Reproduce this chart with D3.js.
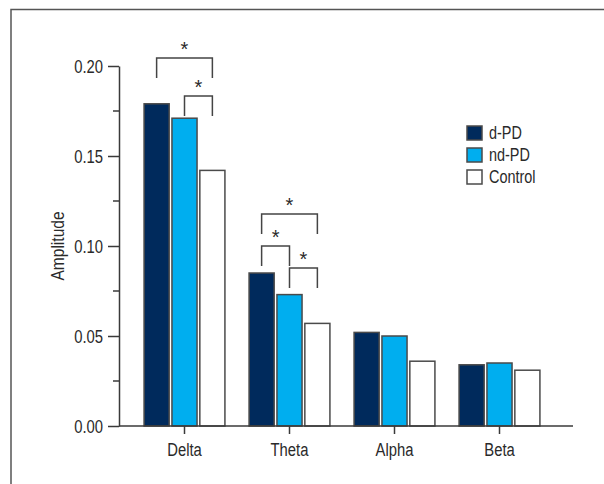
<!DOCTYPE html>
<html>
<head>
<meta charset="utf-8">
<script src="https://cdn.jsdelivr.net/npm/d3@7"></script>
<style>
    body { margin: 0; background: #fff; }
    svg text { font-family: "Liberation Sans", Arial, sans-serif; fill: #2a2a2a; }
</style>
</head>
<body>
<svg id="chart" width="604" height="484"></svg>
<script>
// Data
const bands = ["Delta", "Theta", "Alpha", "Beta"];
const groups = ["d-PD", "nd-PD", "Control"];
const dPD = [0.179, 0.085, 0.052, 0.034];
const ndPD = [0.171, 0.073, 0.050, 0.035];
const control = [0.142, 0.057, 0.036, 0.031];
const yTicks = [0, 0.05, 0.10, 0.15, 0.20];
const colors = ["#002a5c", "#00aeef", "#ffffff"];

// significance brackets: band, from group, to group, top level (in amplitude units)
const brackets = [
    { band: "Delta", from: "d-PD", to: "Control", top: 0.2045 },
    { band: "Delta", from: "nd-PD", to: "Control", top: 0.1833 },
    { band: "Theta", from: "d-PD", to: "Control", top: 0.1178 },
    { band: "Theta", from: "d-PD", to: "nd-PD", top: 0.1000 },
    { band: "Theta", from: "nd-PD", to: "Control", top: 0.0878 }
];

const series = [dPD, ndPD, control];
const rows = bands.map((b, i) => ({ band: b, values: groups.map((g, j) => ({ group: g, value: series[j][i] })) }));

const svg = d3.select("#chart");
const axisColor = "#3a3a3a";
const squeeze = 0.78; // the original uses a condensed face

// squeeze text horizontally around its anchor
function narrow(sel, sx) {
    sel.each(function () {
        const t = d3.select(this);
        const x = +t.attr("x") || 0;
        t.attr("x", x / sx).attr("transform", `scale(${sx},1)`);
    });
}

// frame
svg.append("path")
    .attr("d", "M11,484V9.5H604")
    .attr("fill", "none")
    .attr("stroke", "#555")
    .attr("stroke-width", 1.5);

const y = d3.scaleLinear().domain([0, 0.2]).range([426, 66]);

const x0 = d3.scaleBand()
    .domain(bands)
    .range([132, 552])
    .paddingInner(0.23)
    .paddingOuter(0.115);

const x1 = d3.scaleBand()
    .domain(groups)
    .range([0, x0.bandwidth()])
    .paddingInner(0.1);

const color = d3.scaleOrdinal().domain(groups).range(colors);

// bars
svg.append("g")
    .selectAll("g")
    .data(rows)
    .join("g")
    .attr("transform", d => `translate(${x0(d.band)},0)`)
    .selectAll("rect")
    .data(d => d.values)
    .join("rect")
    .attr("x", d => x1(d.group))
    .attr("y", d => y(d.value))
    .attr("width", x1.bandwidth())
    .attr("height", d => y(0) - y(d.value))
    .attr("fill", d => color(d.group))
    .attr("stroke", "#4a4a4a")
    .attr("stroke-width", 1.5);

// y axis: minor ticks
const minor = d3.range(0.025, 0.2, 0.05);
svg.append("g")
    .selectAll("line")
    .data(minor)
    .join("line")
    .attr("x1", 113).attr("x2", 119)
    .attr("y1", d => y(d)).attr("y2", d => y(d))
    .attr("stroke", axisColor).attr("stroke-width", 1.5);

const yAxis = svg.append("g")
    .attr("transform", "translate(119,0)")
    .call(d3.axisLeft(y).tickValues(yTicks).tickFormat(d3.format(".2f")).tickSize(11).tickSizeOuter(0).tickPadding(5));
yAxis.select(".domain").attr("stroke", axisColor).attr("stroke-width", 1.5);
yAxis.selectAll(".tick line").attr("stroke", axisColor).attr("stroke-width", 1.5);
yAxis.selectAll("text").attr("font-size", 19).attr("font-family", null).attr("fill", null)
    .call(narrow, squeeze);

// x axis
const xAxisG = svg.append("g").attr("transform", `translate(0,${y(0)})`);
xAxisG.append("line")
    .attr("x1", 119).attr("x2", 573)
    .attr("stroke", axisColor).attr("stroke-width", 1.5);
const xAxis = xAxisG.append("g")
    .call(d3.axisBottom(x0).tickSize(8).tickSizeOuter(0).tickPadding(9));
xAxis.select(".domain").remove();
xAxis.selectAll(".tick line").attr("stroke", axisColor).attr("stroke-width", 1.5);
xAxis.selectAll("text").attr("font-size", 19).attr("font-family", null).attr("fill", null)
    .call(narrow, squeeze);

// y label
svg.append("g")
    .attr("transform", "translate(64,246) rotate(-90)")
    .append("text")
    .attr("text-anchor", "middle")
    .attr("font-size", 19)
    .text("Amplitude")
    .call(narrow, 0.82);

// brackets
const center = (band, g) => x0(band) + x1(g) + x1.bandwidth() / 2;
const legLen = 20;
const br = svg.append("g");
brackets.forEach(b => {
    const xa = center(b.band, b.from);
    const xb = center(b.band, b.to);
    const yt = y(b.top);
    br.append("path")
        .attr("d", `M${xa},${yt + legLen}V${yt}H${xb}V${yt + legLen}`)
        .attr("fill", "none")
        .attr("stroke", "#444")
        .attr("stroke-width", 1.5);
    br.append("text")
        .attr("x", (xa + xb) / 2)
        .attr("y", yt - 2)
        .attr("text-anchor", "middle")
        .attr("font-family", "DejaVu Sans")
        .attr("font-size", 20)
        .text("*");
});

// legend
const legend = svg.append("g").attr("transform", "translate(467,126)");
const item = legend.selectAll("g")
    .data(groups)
    .join("g")
    .attr("transform", (d, i) => `translate(0,${i * 22})`);
item.append("rect")
    .attr("width", 15).attr("height", 14)
    .attr("fill", d => color(d))
    .attr("stroke", "#4a4a4a").attr("stroke-width", 1.5);
item.append("text")
    .attr("x", 22).attr("y", 7)
    .attr("dy", "0.35em")
    .attr("font-size", 18.5)
    .text(d => d)
    .call(narrow, squeeze);
</script>
</body>
</html>
